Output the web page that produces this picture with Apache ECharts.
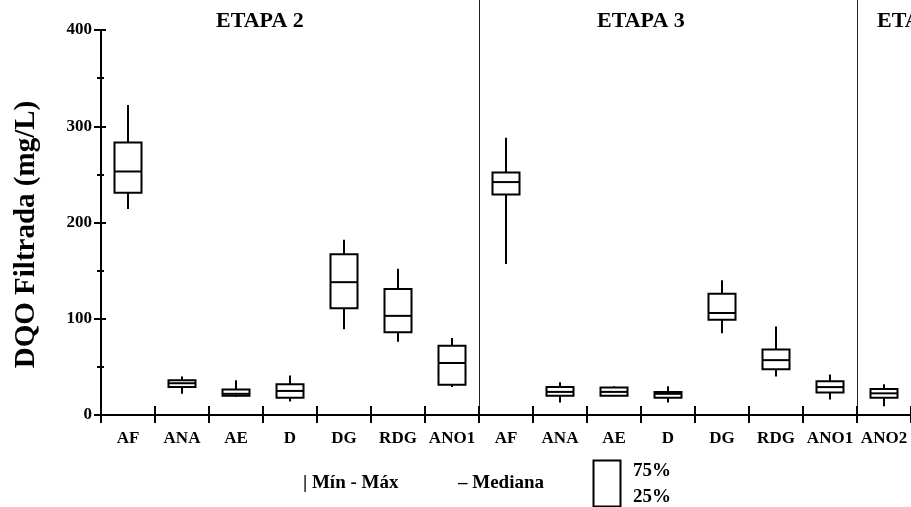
<!DOCTYPE html>
<html>
<head>
<meta charset="utf-8">
<script src="https://cdn.jsdelivr.net/npm/echarts@6/dist/echarts.min.js"></script>
<style>
html, body { margin: 0; padding: 0; background: #fff; }
#dqo_chart { width: 911px; height: 507px; }
</style>
</head>
<body>
<div id="dqo_chart"></div>
<script>
// categorias (etapa 2, etapa 3, etapa 4 cortada)
var categories = ['AF', 'ANA', 'AE', 'D', 'DG', 'RDG', 'ANO1', 'AF', 'ANA', 'AE', 'D', 'DG', 'RDG', 'ANO1', 'ANO2'];
var etapas = ['ETAPA 2', 'ETAPA 3', 'ETAPA 4'];
var y_ticks = [0, 100, 200, 300, 400];

// DQO filtrada (mg/L)
var min_vals    = [214, 22, 19, 14,  89,  76, 29,   157, 13, 19.5, 13,  85,  40, 16,   9];
var q1_vals     = [231, 29, 20, 18, 111,  86, 31.5, 229, 20, 20,   18,  99, 47.5, 23.5, 18];
var median_vals = [253, 33, 22, 25, 138, 103, 54,   242, 24, 24,   22, 106,  57, 29,   22.5];
var q3_vals     = [283, 36, 26.5, 32, 167, 131, 72, 252, 29, 28.5, 24, 126,  68, 35,   27];
var max_vals    = [322, 40, 36, 41, 182, 152, 80,   288, 34, 30,   30, 140,  92, 42,   32];

var box_rows = categories.map(function (c, i) {
    return [i, min_vals[i], q1_vals[i], median_vals[i], q3_vals[i], max_vals[i]];
});

var serif = 'Liberation Serif';

var dqo_chart = echarts.init(document.getElementById('dqo_chart'));

function render_box(params, api) {
    var idx = api.value(0);
    var p_min = api.coord([idx, api.value(1)]);
    var p_q1 = api.coord([idx, api.value(2)]);
    var p_med = api.coord([idx, api.value(3)]);
    var p_q3 = api.coord([idx, api.value(4)]);
    var p_max = api.coord([idx, api.value(5)]);
    var half = api.size([1, 0])[0] * 0.25;
    var line_style = {stroke: '#000', lineWidth: 2};
    return {
        type: 'group',
        children: [
            {type: 'line', shape: {x1: p_max[0], y1: p_max[1], x2: p_q3[0], y2: p_q3[1]}, style: line_style},
            {type: 'line', shape: {x1: p_q1[0], y1: p_q1[1], x2: p_min[0], y2: p_min[1]}, style: line_style},
            {
                type: 'rect',
                shape: {x: p_q3[0] - half, y: p_q3[1], width: half * 2, height: p_q1[1] - p_q3[1]},
                style: {stroke: '#000', lineWidth: 2, fill: '#fff'}
            },
            {type: 'line', shape: {x1: p_med[0] - half, y1: p_med[1], x2: p_med[0] + half, y2: p_med[1]}, style: line_style}
        ]
    };
}

var title_style = {fontFamily: serif, fontWeight: 'bold', fontSize: 22, color: '#000'};
var legend_font = 'bold 19px "Liberation Serif"';
var black_line = {color: '#000', width: 2};

dqo_chart.setOption({
    animation: false,
    backgroundColor: '#fff',
    title: [
        {text: etapas[0], left: 216, top: 10, padding: 0, textStyle: title_style},
        {text: etapas[1], left: 597, top: 10, padding: 0, textStyle: title_style},
        {text: etapas[2], left: 877, top: 10, padding: 0, textStyle: title_style}
    ],
    grid: [
        {left: 101, top: 30, width: 814.5, height: 385},
        {left: 101, top: 0, width: 814.5, height: 415}
    ],
    xAxis: [
        {
            type: 'category',
            gridIndex: 0,
            data: categories,
            boundaryGap: true,
            axisLine: {show: true, lineStyle: black_line},
            axisTick: {show: true, interval: 0, length: 8, lineStyle: black_line},
            axisLabel: {
                interval: 0,
                margin: 15,
                color: '#000',
                fontFamily: serif,
                fontWeight: 'bold',
                fontSize: 17
            },
            splitLine: {show: false}
        },
        {
            // marcas para dentro
            type: 'category',
            gridIndex: 0,
            position: 'bottom',
            data: categories,
            axisLine: {show: true, lineStyle: black_line},
            axisTick: {show: true, interval: 0, inside: true, length: 9, lineStyle: black_line},
            axisLabel: {show: false},
            splitLine: {show: false}
        },
        {
            // separadores das etapas
            type: 'category',
            gridIndex: 1,
            data: categories,
            axisLine: {show: false},
            axisTick: {show: false},
            axisLabel: {show: false},
            splitLine: {
                show: true,
                interval: function (index) {
                    return index === 7 || index === 14;
                },
                lineStyle: {color: '#222', width: 1}
            }
        }
    ],
    yAxis: [
        {
            type: 'value',
            gridIndex: 0,
            min: y_ticks[0],
            max: y_ticks[y_ticks.length - 1],
            interval: 100,
            name: 'DQO Filtrada (mg/L)',
            nameLocation: 'middle',
            nameGap: 60,
            nameTextStyle: {
                fontFamily: serif,
                fontWeight: 'bold',
                fontSize: 29,
                color: '#000',
                padding: [0, 24, 0, 0]
            },
            axisLine: {show: true, lineStyle: black_line},
            axisTick: {show: true, length: 7, lineStyle: black_line},
            minorTick: {show: true, splitNumber: 2, length: 4, lineStyle: black_line},
            axisLabel: {
                margin: 9,
                color: '#000',
                fontFamily: serif,
                fontWeight: 'bold',
                fontSize: 17
            },
            splitLine: {show: false}
        },
        {
            type: 'value',
            gridIndex: 0,
            position: 'left',
            min: y_ticks[0],
            max: y_ticks[y_ticks.length - 1],
            interval: 100,
            axisLine: {show: true, lineStyle: black_line},
            axisTick: {show: true, inside: true, length: 5, lineStyle: black_line},
            minorTick: {show: true, splitNumber: 2, length: 3, lineStyle: black_line},
            axisLabel: {show: false},
            splitLine: {show: false}
        },
        {
            type: 'value',
            gridIndex: 1,
            min: 0,
            max: 1,
            show: false
        }
    ],
    series: [
        {
            name: 'DQO Filtrada',
            type: 'custom',
            xAxisIndex: 0,
            yAxisIndex: 0,
            renderItem: render_box,
            encode: {x: 0, y: [1, 2, 3, 4, 5]},
            data: box_rows,
            z: 5
        }
    ],
    graphic: [
        {type: 'text', left: 303, top: 474, style: {text: '| Mín - Máx', font: legend_font, fill: '#000'}},
        {type: 'text', left: 458, top: 474, style: {text: '– Mediana', font: legend_font, fill: '#000'}},
        {type: 'rect', left: 591, top: 458, shape: {width: 27, height: 46}, style: {stroke: '#000', lineWidth: 2, fill: 'none'}},
        {type: 'text', left: 633, top: 462, style: {text: '75%', font: legend_font, fill: '#000'}},
        {type: 'text', left: 633, top: 488, style: {text: '25%', font: legend_font, fill: '#000'}}
    ]
});

window.addEventListener('resize', function () {
    dqo_chart.resize();
});
</script>
</body>
</html>
